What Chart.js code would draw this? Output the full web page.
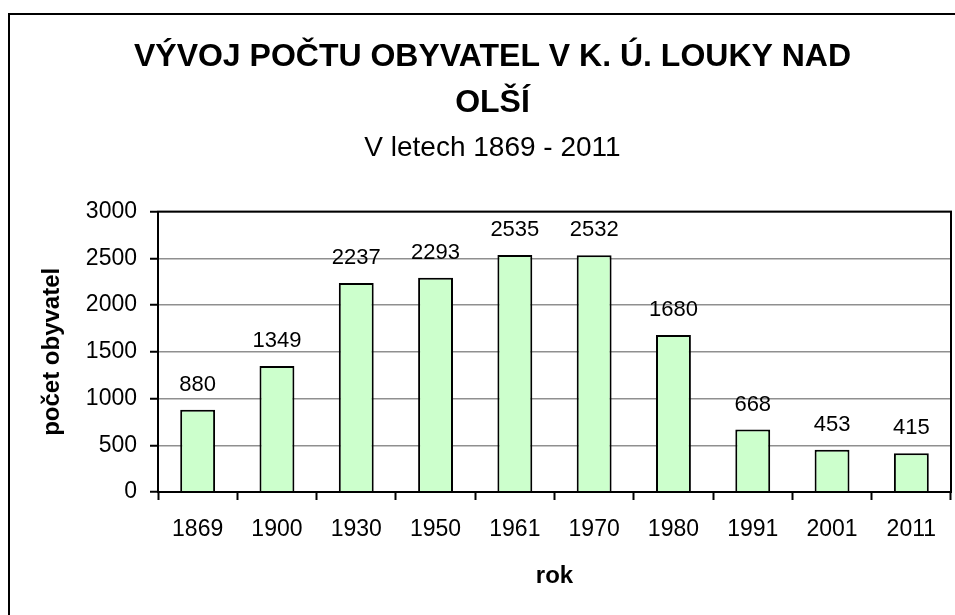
<!DOCTYPE html>
<html>
<head>
<meta charset="utf-8">
<script src="https://cdn.jsdelivr.net/npm/chart.js@4/dist/chart.umd.min.js"></script>
<style>
  body { margin: 0; background: #fff; }
  #wrap { width: 955px; height: 615px; position: relative; }
</style>
</head>
<body>
<div id="wrap"><canvas id="obyv"></canvas></div>
<script>
// Vývoj počtu obyvatel - Louky nad Olší
const years = ['1869', '1900', '1930', '1950', '1961', '1970', '1980', '1991', '2001', '2011']
const population = [880, 1349, 2237, 2293, 2535, 2532, 1680, 668, 453, 415]
const yTicks = [0, 500, 1000, 1500, 2000, 2500, 3000]

const FONT = "'Liberation Sans', Arial, sans-serif"

// values above the bars
const barLabels = {
  id: 'barLabels',
  afterDatasetsDraw(chart) {
    const ctx = chart.ctx
    const meta = chart.getDatasetMeta(0)
    ctx.save()
    ctx.font = '22px ' + FONT
    ctx.fillStyle = '#000'
    ctx.textAlign = 'center'
    ctx.textBaseline = 'middle'
    meta.data.forEach((bar, i) => {
      ctx.fillText(String(population[i]), bar.x, bar.y - 25)
    })
    ctx.restore()
  }
}

// plot area frame + outer chart frame
const frames = {
  id: 'frames',
  afterDraw(chart) {
    const ctx = chart.ctx
    const a = chart.chartArea
    ctx.save()
    ctx.strokeStyle = '#000'
    ctx.lineWidth = 2
    ctx.strokeRect(a.left, a.top, a.right - a.left, a.bottom - a.top)
    ctx.strokeRect(9, 14, 960, 620)
    ctx.restore()
  }
}

const octx = document.getElementById('obyv').getContext('2d')
const obyvChart = new Chart(octx, {
  type: 'bar',
  data: {
    labels: years,
    datasets: [{
      label: 'počet obyvatel',
      data: population,
      backgroundColor: '#ccffcc',
      borderColor: '#000',
      borderWidth: 2,
      categoryPercentage: 1,
      barPercentage: 0.44
    }]
  },
  options: {
    responsive: true,
    maintainAspectRatio: false,
    animation: false,
    layout: { padding: { left: 34, right: 4, top: 0, bottom: 20 } },
    scales: {
      x: {
        grid: {
          display: true,
          drawOnChartArea: false,
          drawTicks: true,
          tickLength: 8,
          tickColor: '#000',
          tickWidth: 2
        },
        border: { color: '#000', width: 2 },
        ticks: { color: '#000', padding: 16, font: { family: FONT, size: 23 } },
        title: {
          display: true,
          text: 'rok',
          color: '#000',
          font: { family: FONT, size: 24, weight: 'bold' },
          padding: { top: 4, bottom: 4 }
        },
        afterFit(scale) { scale.height = 103 }
      },
      y: {
        min: 0,
        max: 3000,
        afterBuildTicks(scale) { scale.ticks = yTicks.map(v => ({ value: v })) },
        grid: {
          color: '#8f8f8f',
          lineWidth: 1.5,
          tickLength: 8,
          tickColor: '#000',
          tickWidth: 2
        },
        border: { color: '#000', width: 2 },
        ticks: {
          color: '#000',
          padding: 13,
          font: { family: FONT, size: 23 },
          callback: v => String(v)
        },
        title: {
          display: true,
          text: 'počet obyvatel',
          color: '#000',
          font: { family: FONT, size: 24, weight: 'bold' },
          padding: { top: 4, bottom: 4 }
        },
        afterFit(scale) { scale.width = 124 }
      }
    },
    plugins: {
      legend: { display: false },
      tooltip: { enabled: false },
      title: {
        display: true,
        text: ['VÝVOJ POČTU OBYVATEL V K. Ú. LOUKY NAD', 'OLŠÍ'],
        color: '#000',
        font: { family: FONT, size: 32, weight: 'bold', lineHeight: 1.4375 },
        padding: { top: 34, bottom: 0 }
      },
      subtitle: {
        display: true,
        text: 'V letech 1869 - 2011',
        color: '#000',
        font: { family: FONT, size: 28, lineHeight: 1.2 },
        padding: { top: 5, bottom: 47 }
      }
    }
  },
  plugins: [barLabels, frames]
})
</script>
</body>
</html>
